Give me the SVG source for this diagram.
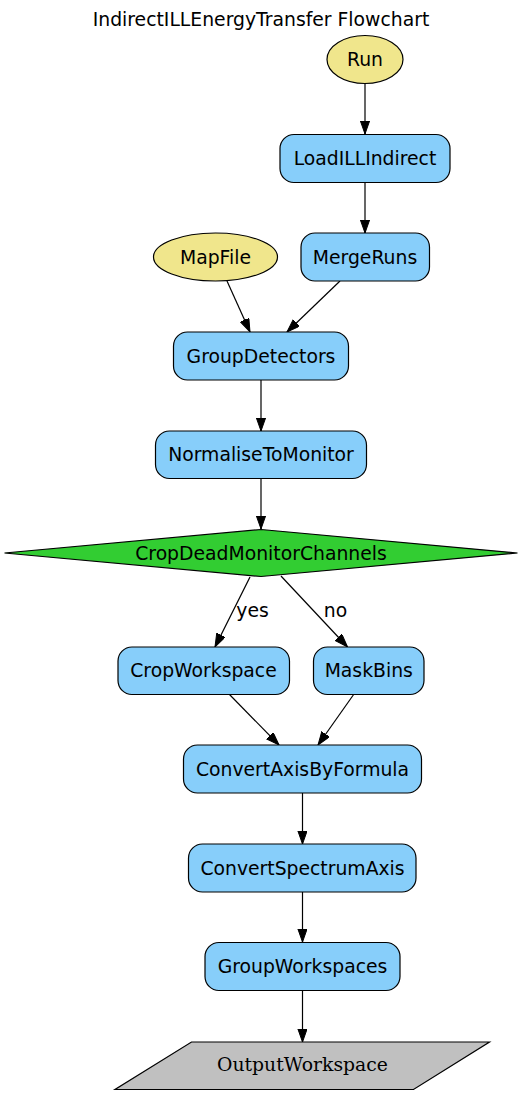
<svg xmlns="http://www.w3.org/2000/svg" width="523" height="1095" viewBox="0 0 523 1095">
<style>
text{font-family:"DejaVu Sans",sans-serif;font-size:18.8px;text-anchor:middle;fill:#000}
.proc{fill:#87cefa;stroke:#000;stroke-width:1.2}
.io{fill:#f0e68c;stroke:#000;stroke-width:1.2}
.dec{fill:#32cd32;stroke:#000;stroke-width:1.2}
.out{fill:#c0c0c0;stroke:#000;stroke-width:1.2}
.edge{stroke:#000;stroke-width:1.2;fill:none;marker-end:url(#arr)}
.serif{font-family:"DejaVu Serif",serif}
</style>
<defs>
<marker id="arr" markerUnits="userSpaceOnUse" markerWidth="14" markerHeight="10" refX="13.3" refY="4.7" orient="auto">
<path d="M0,0 L13.3,4.7 L0,9.4 z" fill="#000" stroke="#000" stroke-width="1"/>
</marker>
</defs>
<rect width="523" height="1095" fill="#fff"/>
<text x="261" y="26">IndirectILLEnergyTransfer Flowchart</text>
<g id="connectors">
<path class="edge" d="M365,83.5 L365,134"/>
<path class="edge" d="M365,183 L365,233"/>
<path class="edge" d="M227,281 L250,332"/>
<path class="edge" d="M340,281 L287,332"/>
<path class="edge" d="M261,380 L261,431"/>
<path class="edge" d="M261,478 L261,529"/>
<path class="edge" d="M250,577 L215,647"/>
<text x="252.5" y="616.5">yes</text>
<path class="edge" d="M281,576 L347.5,647"/>
<text x="335.5" y="616.5">no</text>
<path class="edge" d="M229,694 L279,745"/>
<path class="edge" d="M354,694 L318,745"/>
<path class="edge" d="M302.5,793 L302.5,844"/>
<path class="edge" d="M302.5,892 L302.5,942"/>
<path class="edge" d="M302.5,991 L302.5,1042"/>
</g>
<g id="Run"><ellipse class="io" cx="365" cy="59.5" rx="38" ry="24"/><text x="365" y="66">Run</text></g>
<g id="LoadILLIndirect"><rect class="proc" x="280" y="134.5" width="170" height="48" rx="14"/><text x="365" y="165">LoadILLIndirect</text></g>
<g id="MapFile"><ellipse class="io" cx="215.5" cy="257" rx="62" ry="24"/><text x="215.5" y="263.5">MapFile</text></g>
<g id="MergeRuns"><rect class="proc" x="301" y="233" width="128.5" height="48" rx="14"/><text x="365" y="263.5">MergeRuns</text></g>
<g id="GroupDetectors"><rect class="proc" x="173.5" y="332" width="175" height="48" rx="14"/><text x="261" y="362.5">GroupDetectors</text></g>
<g id="NormaliseToMonitor"><rect class="proc" x="155.5" y="431" width="211" height="47.5" rx="14"/><text x="261" y="461">NormaliseToMonitor</text></g>
<g id="CropDeadMonitorChannels"><polygon class="dec" points="261,529.5 517.5,553 261,576.5 4.5,553"/><text x="261" y="559.5">CropDeadMonitorChannels</text></g>
<g id="CropWorkspace"><rect class="proc" x="118" y="647" width="171.5" height="47.5" rx="14"/><text x="203.5" y="677">CropWorkspace</text></g>
<g id="MaskBins"><rect class="proc" x="313.5" y="647" width="110.5" height="47.5" rx="14"/><text x="368.75" y="677">MaskBins</text></g>
<g id="ConvertAxisByFormula"><rect class="proc" x="183.5" y="745" width="238" height="48" rx="14"/><text x="302.5" y="775.5">ConvertAxisByFormula</text></g>
<g id="ConvertSpectrumAxis"><rect class="proc" x="188.5" y="844" width="227.5" height="48" rx="14"/><text x="302.5" y="874.5">ConvertSpectrumAxis</text></g>
<g id="GroupWorkspaces"><rect class="proc" x="205" y="942.5" width="195" height="48" rx="14"/><text x="302.5" y="973">GroupWorkspaces</text></g>
<g id="OutputWorkspace"><polygon class="out" points="191.5,1042 489.5,1042 413.5,1089.5 115,1089.5"/><text class="serif" x="302.5" y="1070.5">OutputWorkspace</text></g>
</svg>
